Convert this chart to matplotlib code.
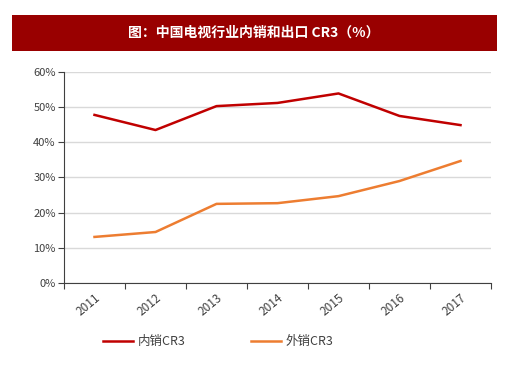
import matplotlib
matplotlib.use("Agg")
import matplotlib.pyplot as plt
from matplotlib.patches import Rectangle
from matplotlib.ticker import FixedLocator, NullFormatter, PercentFormatter

plt.rcParams['font.family'] = ['Noto Sans CJK SC', 'DejaVu Sans']

years = ['2011', '2012', '2013', '2014', '2015', '2016', '2017']
domestic = [47.8, 43.5, 50.3, 51.2, 53.9, 47.5, 44.9]
export = [13.1, 14.5, 22.5, 22.7, 24.7, 29.0, 34.7]
title = '图：中国电视行业内销和出口 CR3（%）'
labels = ['内销CR3', '外销CR3']

W, H = 520, 367
fig = plt.figure(figsize=(W/100, H/100), dpi=100)
fig.patch.set_facecolor('white')

# title band
fig.patches.append(Rectangle((12/W, 1-51/H), (497-12)/W, 36/H, transform=fig.transFigure,
                             facecolor='#990000', edgecolor='none'))
fig.text(254/W, 1-33/H, title, color='white', fontsize=10, fontweight='semibold',
         ha='center', va='center')

ax = fig.add_axes([64/W, 1-283/H, (491-64)/W, (283-72)/H])
x = list(range(len(years)))
ax.plot(x, domestic, color='#C00000', lw=1.8, label=labels[0])
ax.plot(x, export, color='#ED7D31', lw=1.8, label=labels[1])
ax.set_xlim(-0.5, len(years)-0.5)
ax.set_ylim(0, 60)
ax.set_yticks([0, 10, 20, 30, 40, 50, 60])
ax.yaxis.set_major_formatter(PercentFormatter(decimals=0))
ax.grid(axis='y', color='#D9D9D9', lw=1)
ax.set_axisbelow(True)
for s in ['top', 'right']:
    ax.spines[s].set_visible(False)
ax.spines['left'].set_color('#404040')
ax.spines['bottom'].set_color('#404040')
ax.tick_params(axis='y', length=4, color='#404040', labelsize=8, labelcolor='#404040', pad=2)
ax.xaxis.set_major_locator(FixedLocator([i - 0.5 for i in range(len(years)+1)]))
ax.xaxis.set_major_formatter(NullFormatter())
ax.xaxis.set_minor_locator(FixedLocator(x))
ax.set_xticks(x, years, minor=True)
ax.tick_params(axis='x', which='major', length=4, color='#404040')
ax.tick_params(axis='x', which='minor', length=0, labelsize=8.5, labelcolor='#404040', pad=6)
for t in ax.get_xticklabels(minor=True):
    t.set_rotation(40)
    t.set_ha('right')
    t.set_rotation_mode('anchor')

fig.legend(loc='center', bbox_to_anchor=(218/W, 1-342/H), ncol=2, frameon=False,
           fontsize=9, handlelength=2.4, columnspacing=5.2, handletextpad=0.4,
           labelcolor='#404040')
fig.savefig('out.png', dpi=100)
